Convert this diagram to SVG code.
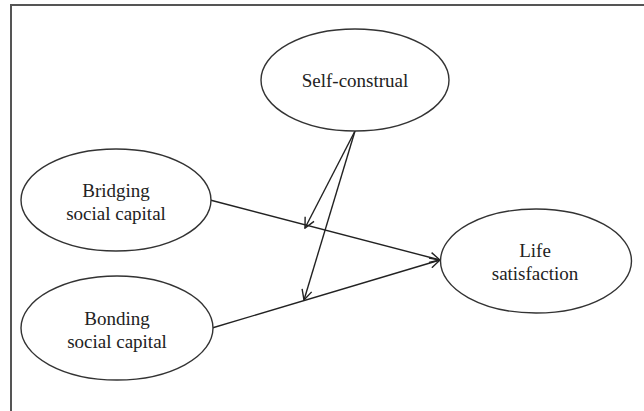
<svg xmlns="http://www.w3.org/2000/svg" width="644" height="411" viewBox="0 0 644 411">
<defs>
<marker id="arr" viewBox="0 0 12 12" refX="11" refY="6" markerWidth="12" markerHeight="12" markerUnits="userSpaceOnUse" orient="auto">
<path d="M1,1 L11,6 L1,11" fill="none" stroke="#222" stroke-width="1.4"/>
</marker>
<style>
.node ellipse{fill:#fff;stroke:#333;stroke-width:1.4}
.node text{font-family:'Liberation Serif',serif;font-size:19px;fill:#222;text-anchor:middle}
.edge{stroke:#222;stroke-width:1.4;fill:none;marker-end:url(#arr)}
.frame{stroke:#555;stroke-width:2;fill:none}
</style>
</defs>
<rect width="644" height="411" fill="#fff"/>
<path class="frame" d="M11,411 V5 H644"/>
<g id="connectors">
<line class="edge" x1="210" y1="200" x2="440" y2="260"/>
<line class="edge" x1="212" y1="328" x2="440" y2="260"/>
<line class="edge" x1="355" y1="131" x2="305" y2="228"/>
<line class="edge" x1="355" y1="131" x2="304" y2="300"/>
</g>
<g id="self-construal" class="node">
<ellipse cx="355" cy="80" rx="94" ry="51"/>
<text x="355" y="87" font-family="Liberation Serif, serif">Self-construal</text>
</g>
<g id="bridging" class="node">
<ellipse cx="116" cy="200" rx="95" ry="51"/>
<text x="116" y="197" font-family="Liberation Serif, serif">Bridging</text>
<text x="116" y="220" font-family="Liberation Serif, serif">social capital</text>
</g>
<g id="bonding" class="node">
<ellipse cx="117" cy="328" rx="96" ry="52"/>
<text x="117" y="325" font-family="Liberation Serif, serif">Bonding</text>
<text x="117" y="348" font-family="Liberation Serif, serif">social capital</text>
</g>
<g id="life-satisfaction" class="node">
<ellipse cx="536" cy="261" rx="95.5" ry="52"/>
<text x="535" y="257" font-family="Liberation Serif, serif">Life</text>
<text x="535" y="280" font-family="Liberation Serif, serif">satisfaction</text>
</g>
</svg>
